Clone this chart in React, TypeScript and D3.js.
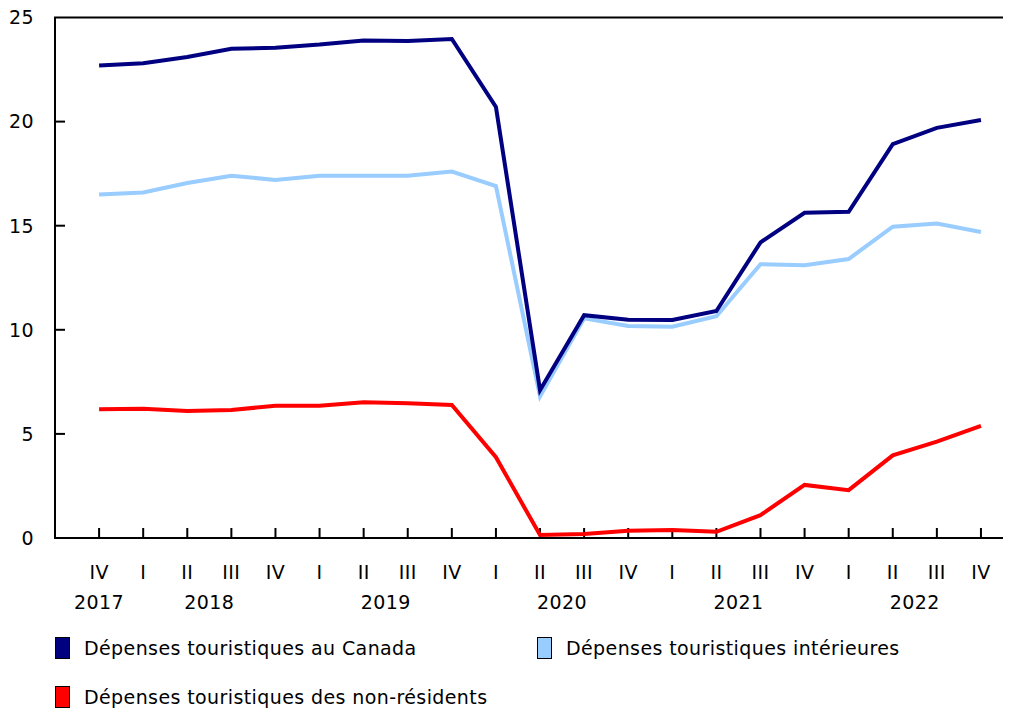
import React, { useEffect, useRef } from "react";
import * as d3 from "d3";

// quarters, from IV 2017 to IV 2022
const quarters = ["IV", "I", "II", "III", "IV", "I", "II", "III", "IV", "I", "II", "III", "IV", "I", "II", "III", "IV", "I", "II", "III", "IV"];
const years = [2017, 2018, 2018, 2018, 2018, 2019, 2019, 2019, 2019, 2020, 2020, 2020, 2020, 2021, 2021, 2021, 2021, 2022, 2022, 2022, 2022];

const canada = [22.7, 22.8, 23.1, 23.5, 23.55, 23.7, 23.9, 23.87, 23.97, 20.7, 7.1, 10.7, 10.48, 10.47, 10.9, 14.2, 15.62, 15.67, 18.92, 19.7, 20.08];
const interieures = [16.5, 16.6, 17.05, 17.4, 17.2, 17.4, 17.4, 17.4, 17.6, 16.9, 6.8, 10.55, 10.18, 10.15, 10.65, 13.15, 13.1, 13.4, 14.95, 15.1, 14.7];
const nonResidents = [6.18, 6.21, 6.1, 6.15, 6.35, 6.35, 6.52, 6.47, 6.39, 3.88, 0.14, 0.19, 0.35, 0.38, 0.3, 1.1, 2.55, 2.3, 3.97, 4.63, 5.38];

const yTicks = [0, 5, 10, 15, 20, 25];

const series = [
  { name: "Dépenses touristiques au Canada", color: "#000080", values: canada },
  { name: "Dépenses touristiques intérieures", color: "#99ccff", values: interieures },
  { name: "Dépenses touristiques des non-résidents", color: "#ff0000", values: nonResidents },
];

function App() {
  const node = useRef<SVGSVGElement>(null);

  useEffect(() => {
    const width = 1017;
    const height = 708;
    const left = 55, right = 1003, top = 17.5, bottom = 538;
    const font = "'DejaVu Sans', Verdana, sans-serif";
    const fs = 19;
    const ls = 0.4;

    const svg = d3.select(node.current);
    svg.selectAll("*").remove();
    svg.attr("width", width).attr("height", height);

    const x = d3.scaleLinear().domain([-1, quarters.length - 0.5]).range([left, right]);
    const y = d3.scaleLinear().domain([0, 25]).range([bottom, top]);

    // frame: top line, left axis, bottom axis
    svg.append("path")
      .attr("d", `M${right},${top}H${left}V${bottom}H${right}`)
      .attr("fill", "none")
      .attr("stroke", "#000")
      .attr("stroke-width", 2);

    // y ticks + labels
    const yg = svg.append("g");
    yg.selectAll("line")
      .data(yTicks.filter(d => d > 0 && d < 25))
      .enter()
      .append("line")
      .attr("x1", left).attr("x2", left + 10)
      .attr("y1", d => y(d)).attr("y2", d => y(d))
      .attr("stroke", "#000").attr("stroke-width", 2);
    yg.selectAll("text")
      .data(yTicks)
      .enter()
      .append("text")
      .attr("x", 34)
      .attr("y", d => y(d))
      .attr("dy", "0.36em")
      .attr("text-anchor", "end")
      .attr("font-family", font)
      .attr("font-size", fs)
      .attr("letter-spacing", ls)
      .text(d => d);

    // x ticks + quarter labels
    const xg = svg.append("g");
    xg.selectAll("line")
      .data(quarters)
      .enter()
      .append("line")
      .attr("x1", (d, i) => x(i)).attr("x2", (d, i) => x(i))
      .attr("y1", bottom).attr("y2", bottom - 10)
      .attr("stroke", "#000").attr("stroke-width", 2);
    xg.selectAll("text")
      .data(quarters)
      .enter()
      .append("text")
      .attr("x", (d, i) => x(i))
      .attr("y", 579)
      .attr("text-anchor", "middle")
      .attr("font-family", font)
      .attr("font-size", fs)
      .attr("letter-spacing", ls)
      .text(d => d);

    // year labels centred under their quarters
    const byYear = d3.groups(years.map((yr, i) => ({ yr, i })), d => d.yr);
    svg.append("g").selectAll("text")
      .data(byYear)
      .enter()
      .append("text")
      .attr("x", d => x(d3.mean(d[1], e => e.i) as number))
      .attr("y", 609)
      .attr("text-anchor", "middle")
      .attr("font-family", font)
      .attr("font-size", fs)
      .attr("letter-spacing", ls)
      .text(d => d[0]);

    // lines (non-residents first, then intérieures, Canada on top)
    const line = d3.line<number>().x((d, i) => x(i)).y(d => y(d));
    const drawOrder = [series[2], series[1], series[0]];
    svg.append("g").selectAll("path")
      .data(drawOrder)
      .enter()
      .append("path")
      .attr("d", d => line(d.values))
      .attr("fill", "none")
      .attr("stroke", d => d.color)
      .attr("stroke-width", 4)
      .attr("stroke-linejoin", "miter");

    // legend
    const legendPos = [
      { x: 55, y: 648 },
      { x: 537, y: 648 },
      { x: 55, y: 697 },
    ];
    const lg = svg.append("g").selectAll("g")
      .data(series)
      .enter()
      .append("g")
      .attr("transform", (d, i) => `translate(${legendPos[i].x},${legendPos[i].y})`);
    lg.append("rect")
      .attr("x", 0.5).attr("y", -10.5)
      .attr("width", 14).attr("height", 21)
      .attr("fill", d => d.color)
      .attr("stroke", "#000").attr("stroke-width", 1);
    lg.append("text")
      .attr("x", 29)
      .attr("dy", "0.36em")
      .attr("font-family", font)
      .attr("font-size", fs)
      .attr("letter-spacing", ls)
      .text(d => d.name);
  }, []);

  return (
    <svg ref={node} style={{ position: "absolute", left: 0, top: 0, background: "#fff" }} />
  );
}

export default App;
